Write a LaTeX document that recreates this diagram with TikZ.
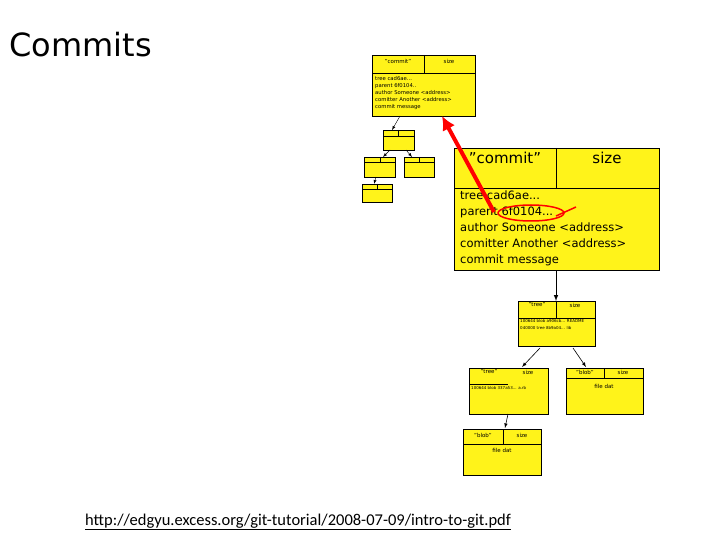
\documentclass[tikz,border=0pt]{standalone}
\usepackage{fontspec}
\setmainfont{DejaVu Sans}
\newfontfamily\urlfont{Carlito}
\usetikzlibrary{positioning,arrows.meta}
\tikzset{
  objbox/.style={draw, fill=yellow!90!white, line width=0.8pt},
  bodytext/.style={anchor=north west, inner sep=0pt, align=left},
  ptr/.style={-latex, line width=0.6pt},
}
\begin{document}
\begin{tikzpicture}[x=1pt, y=-1pt]
  \useasboundingbox (0,0) rectangle (720,540);

  \node (title) [anchor=west, font=\fontsize{32}{32}\selectfont] at (6,45) {Commits};

  % small overview
  \draw[objbox, line width=0.5pt] (372,55) rectangle (475,116);
  \draw[line width=0.4pt] (372,73) -- (475,73) (424,55) -- (424,73);
  \node [font=\fontsize{5.5}{6}\selectfont] at (398,61) {\symbol{34}commit\symbol{34}};
  \node [font=\fontsize{5.5}{6}\selectfont] at (449,61) {size};
  \node (smallbody) [bodytext, font=\fontsize{5.3}{7}\selectfont] at (375,76)
    {tree cad6ae...\\parent 6f0104..\\author Someone <address>\\comitter Another <address>\\commit message};
  \coordinate (smallc) at (400,116);
  \draw[objbox, line width=0.4pt] (383,130) rectangle (414,150);
  \draw[objbox, line width=0.4pt] (364,157) rectangle (395,177);
  \draw[objbox, line width=0.4pt] (404,157) rectangle (434,177);
  \draw[objbox, line width=0.4pt] (362,184) rectangle (392,202);
  \draw[line width=0.3pt] (383,136) -- (414,136) (398,130) -- (398,136)
    (364,162) -- (395,162) (380,157) -- (380,162)
    (404,162) -- (434,162) (419,157) -- (419,162)
    (362,189) -- (392,189) (377,184) -- (377,189);
  \draw[-latex, line width=0.4pt] (smallc) -- (392,130);
  \draw[-latex, line width=0.4pt] (390,150) -- (383,157);
  \draw[-latex, line width=0.4pt] (406,150) -- (412,157);
  \draw[-latex, line width=0.4pt] (376,177) -- (374,184);

  % big commit
  \draw[objbox] (454,148) rectangle (659,270);
  \draw[line width=0.8pt] (454,188) -- (659,188) (556,148) -- (556,188);
  \node (commithead) [font=\fontsize{15}{15}\selectfont] at (505,158) {\symbol{34}commit\symbol{34}};
  \node (commitsize) [font=\fontsize{15}{15}\selectfont] at (607,158) {size};
  \node (commitbody) [bodytext, font=\fontsize{11.5}{16}\selectfont] at (460,191)
    {tree cad6ae...\\parent 6f0104...\\author Someone <address>\\comitter Another <address>\\commit message};
  \coordinate (commitbot) at (556,270);

  % tree
  \draw[objbox, line width=0.5pt] (518,301) rectangle (595,346);
  \draw[line width=0.5pt] (518,318) -- (595,318) (556,301) -- (556,318);
  \node (treehead) [font=\fontsize{5.5}{5}\selectfont] at (537,305) {\symbol{34}tree\symbol{34}};
  \node (treesize) [font=\fontsize{5.5}{5}\selectfont] at (575,305) {size};
  \node (treebody) [bodytext, font=\fontsize{4}{7}\selectfont] at (520,319)
    {100644 blob a906cb... README\\040000 tree 8b9a04... lib};
  \coordinate (treetop) at (556,301);

  % subtree
  \draw[objbox, line width=0.5pt] (469,368) rectangle (548,414);
  \draw[line width=0.4pt] (469,384) -- (508,384);
  \node (subhead) [font=\fontsize{5.5}{5}\selectfont] at (489,372) {\symbol{34}tree\symbol{34}};
  \node (subsize) [font=\fontsize{5.5}{5}\selectfont] at (528,372) {size};
  \node (subbody) [bodytext, font=\fontsize{4}{7}\selectfont] at (471,386)
    {100644 blob 337a53... a.rb};

  % blob right
  \draw[objbox, line width=0.5pt] (566,368) rectangle (643,414);
  \draw[line width=0.5pt] (566,378) -- (643,378) (604,368) -- (604,378);
  \node (blobhead) [font=\fontsize{5.5}{5}\selectfont] at (585,372) {\symbol{34}blob\symbol{34}};
  \node (blobsize) [font=\fontsize{5.5}{5}\selectfont] at (623,372) {size};
  \node (blobdata) [font=\fontsize{5.5}{5}\selectfont] at (604,386) {file dat};

  % blob lower
  \draw[objbox, line width=0.5pt] (463,429) rectangle (541,475);
  \draw[line width=0.5pt] (463,444) -- (541,444) (503,429) -- (503,444);
  \node (blob2head) [font=\fontsize{5.5}{5}\selectfont] at (483,435) {\symbol{34}blob\symbol{34}};
  \node (blob2size) [font=\fontsize{5.5}{5}\selectfont] at (522,435) {size};
  \node (blob2data) [font=\fontsize{5.5}{5}\selectfont] at (502,450) {file dat};

  \draw[ptr, line width=1pt] (commitbot) -- (treetop);
  \draw[ptr] (540,348) -- (522,367);
  \draw[ptr] (573,348) -- (586,367);
  \draw[ptr] (508,414) -- (505,428);

  % red marks
  \draw[red, line width=1.5pt] (531,213) ellipse [x radius=33, y radius=8];
  \draw[red, line width=1.5pt] (556,216) -- (576,207);
  \draw[red, line width=4pt, -{Latex[length=14pt,width=14pt]}] (494,212) -- (442,116);

  \node (link) [anchor=west, font=\urlfont\fontsize{16.5}{16}\selectfont, inner sep=0pt] at (85,522)
    {\underline{http://edgyu.excess.org/git-tutorial/2008-07-09/intro-to-git.pdf}};
\end{tikzpicture}
\end{document}
